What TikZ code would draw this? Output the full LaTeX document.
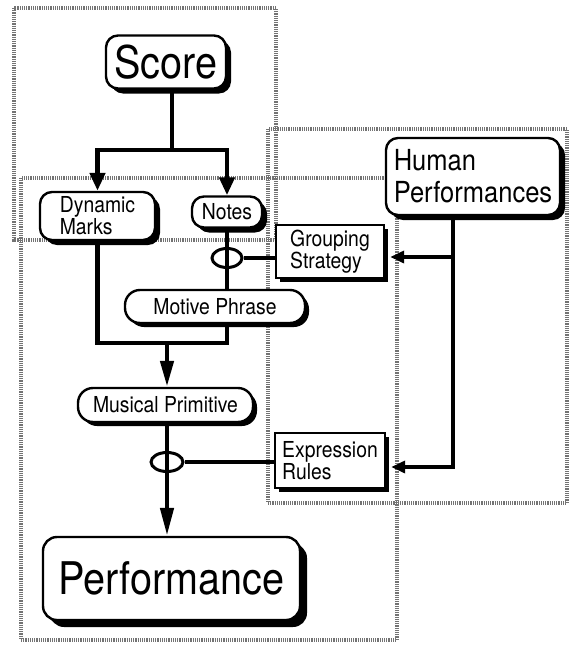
\documentclass[tikz,border=0pt]{standalone}
\usepackage{fontspec}
\setmainfont{TeX Gyre Heros}[FakeStretch=0.88]
\usetikzlibrary{arrows.meta,shadows,shapes.geometric,calc}
\begin{document}
\begin{tikzpicture}[x=1pt,y=-1pt,
  region/.style={draw=black!55, line width=3.5pt, dash pattern=on 1.2pt off 1pt},
  shad/.style={drop shadow={shadow xshift=#1, shadow yshift=-#1, fill=black, opacity=1}},
  rbox/.style={draw, line width=2.4pt, fill=white, rounded corners=12pt, inner sep=0pt, align=left, shad=5pt},
  pill/.style={draw, line width=2.4pt, fill=white, rounded corners=15pt, inner sep=0pt, align=left, shad=4pt},
  sqbox/.style={draw, line width=2.4pt, fill=white, inner sep=0pt, align=left, shad=4pt},
  conn/.style={line width=4.5pt},
  tconn/.style={line width=3.2pt},
  ring/.style={ellipse, draw, line width=3pt, inner sep=0pt},
  big/.style={font=\fontsize{45}{47}\selectfont},
  mid/.style={font=\fontsize{29}{32}\selectfont},
  small/.style={font=\fontsize{22}{22}\selectfont},
]
\useasboundingbox (0,0) rectangle (569,645);
% regions
\draw[region] (14,8) rectangle (276,240);
\draw[region] (21,178) rectangle (397,640);
\draw[region] (268,129) rectangle (567,503);

% nodes
\node[rbox, big, minimum width=120pt, minimum height=53pt] (score) at (166,62) {Score};
\node[rbox, small, minimum width=115pt, minimum height=48pt] (dm) at (97.5,216) {Dynamic\\Marks};
\node[rbox, small, minimum width=70pt, minimum height=31pt] (notes) at (227,212) {Notes};
\node[sqbox, small, minimum width=108pt, minimum height=53pt] (gs) at (330,251.5) {Grouping\\Strategy};
\node[rbox, mid, minimum width=174pt, minimum height=77pt] (hp) at (473,176.5) {Human\\Performances};
\node[pill, small, minimum width=180pt, minimum height=33pt] (mot) at (215,306.5) {Motive Phrase};
\node[pill, small, minimum width=175pt, minimum height=34pt] (mus) at (165.5,405) {Musical Primitive};
\node[sqbox, small, minimum width=110pt, minimum height=55pt] (er) at (330,460.5) {Expression\\Rules};
\node[rbox, big, rounded corners=14pt, shad=7pt, minimum width=257pt, minimum height=83pt] (perf) at (171.5,578.5) {Performance};

% junctions
\coordinate (j1) at (172,150);
\coordinate (j2) at (167,343);
\coordinate (j2r) at (227,343);
\coordinate (h1) at (453,257);
\coordinate (h2) at (453,467);

% Score fan-out
\draw[conn] (score.south -| j1) -- (j1);
\draw[conn, -{Triangle[length=18pt,width=15pt]}] (j1) -| (dm.north);
\draw[conn, -{Triangle[length=18pt,width=15pt]}] (j1) -| (notes.north);

% Notes to Motive Phrase with grouping ring
\draw[conn] (notes.south) -- (notes.south |- mot.north);
\node[ring, minimum width=30pt, minimum height=19pt] (e1) at (227,258) {};
\draw[tconn] (e1.east) -- (e1.east -| gs.west);

% merge into Musical Primitive
\draw[conn] (dm.south) |- (j2r) -- (j2r |- mot.south);
\draw[conn, -{Triangle[length=26pt,width=13pt]}] (j2) -- (j2 |- mus.north);

% Musical Primitive to Performance with expression ring
\draw[conn, -{Triangle[length=28pt,width=13pt]}] (j2 |- mus.south) -- (j2 |- perf.north);
\node[ring, minimum width=32pt, minimum height=19pt] (e2) at (167,462) {};
\draw[tconn] (e2.east) -- (e2.east -| er.west);

% Human Performances feeds
\draw[conn, -{Triangle[length=14pt,width=12pt]}] (hp.south -| h2) -- (h2) -- ($(h2 -| er.east)+(5,0)$);
\draw[conn, -{Triangle[length=14pt,width=12pt]}] (h1) -- ($(h1 -| gs.east)+(5,0)$);
\end{tikzpicture}
\end{document}
